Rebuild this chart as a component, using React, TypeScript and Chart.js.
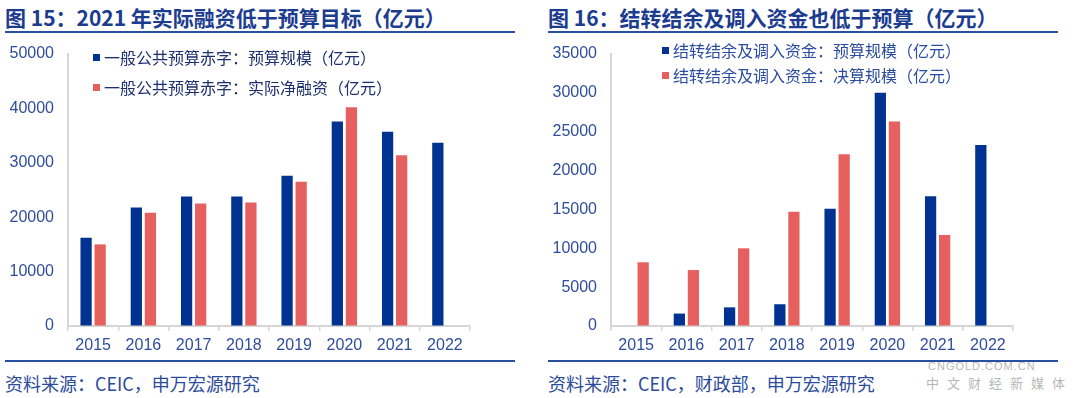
import React, { useEffect, useRef } from "react";
import { Chart, registerables } from "chart.js";

Chart.register(...registerables);

const years = ["2015", "2016", "2017", "2018", "2019", "2020", "2021", "2022"];
const deficitBudget = [16200, 21800, 23800, 23800, 27600, 37600, 35700, 33700];
const deficitActual = [15000, 20800, 22500, 22700, 26500, 40200, 31400, null];
const carryBudget = [null, 1600, 2400, 2800, 15100, 30000, 16700, 23300];
const carryFinal = [8200, 7200, 10000, 14700, 22100, 26300, 11700, null];

const leftTitle = "图 15：2021 年实际融资低于预算目标（亿元）";
const rightTitle = "图 16：结转结余及调入资金也低于预算（亿元）";
const leftLegend = ["一般公共预算赤字：预算规模（亿元）", "一般公共预算赤字：实际净融资（亿元）"];
const rightLegend = ["结转结余及调入资金：预算规模（亿元）", "结转结余及调入资金：决算规模（亿元）"];
const leftSource = "资料来源：CEIC，申万宏源研究";
const rightSource = "资料来源：CEIC，财政部，申万宏源研究";

const BLUE = "#003391";
const RED = "#e66060";
const AXIS = "#d6d6d6";
const TICK_COLOR = "#2f4d9c";
const TITLE_COLOR = "#1c3c8f";
const CJK = '"Noto Sans CJK SC", "Noto Sans", sans-serif';
const LATIN = '"Liberation Sans", Arial, sans-serif';

type BarProps = {
  a: (number | null)[];
  b: (number | null)[];
  labels: string[];
  max: number;
  step: number;
  yWidth: number;
  padRight: number;
};

function BarChart({ a, b, labels, max, step, yWidth, padRight }: BarProps) {
  const ref = useRef<HTMLCanvasElement | null>(null);
  useEffect(() => {
    if (!ref.current) return;
    const chart = new Chart(ref.current, {
      type: "bar",
      data: {
        labels,
        datasets: [
          { data: a, backgroundColor: BLUE, categoryPercentage: 0.56, barPercentage: 0.8 },
          { data: b, backgroundColor: RED, categoryPercentage: 0.56, barPercentage: 0.8 },
        ],
      },
      options: {
        responsive: false,
        animation: false,
        devicePixelRatio: 1,
        layout: { padding: { top: 14, right: padRight, bottom: 0, left: 0 } },
        plugins: { legend: { display: false }, tooltip: { enabled: false } },
        scales: {
          x: {
            grid: { offset: true, drawOnChartArea: false, drawTicks: true, tickLength: 5, color: AXIS, lineWidth: 1.5 },
            border: { color: AXIS, width: 2 },
            ticks: { color: TICK_COLOR, font: { family: LATIN, size: 16 }, padding: 5 },
            afterFit: (s: any) => {
              s.height = 34;
            },
          },
          y: {
            min: 0,
            max,
            grid: { drawOnChartArea: false, drawTicks: false },
            border: { color: AXIS, width: 2 },
            ticks: {
              stepSize: step,
              color: TICK_COLOR,
              font: { family: LATIN, size: 16 },
              padding: 14,
              callback: (v: any) => String(v),
            },
            afterFit: (s: any) => {
              s.width = yWidth;
              s.paddingTop = 0;
              s.paddingBottom = 0;
            },
          },
        },
      },
    });
    return () => chart.destroy();
  }, []);
  return <canvas ref={ref} width={540} height={320} />;
}

function Legend({ items, left, tops, color }: { items: string[]; left: number; tops: number[]; color: string }) {
  const colors = [BLUE, RED];
  return (
    <>
      {items.map((t, i) => (
        <div
          key={i}
          style={{
            position: "absolute",
            left,
            top: tops[i] - 11,
            height: 22,
            display: "flex",
            alignItems: "center",
            fontFamily: CJK,
            fontSize: 16,
            color,
            whiteSpace: "nowrap",
          }}
        >
          <span style={{ display: "inline-block", width: 7, height: 7, background: colors[i], marginRight: 4 }} />
          {t}
        </div>
      ))}
    </>
  );
}

function Panel({
  x,
  width,
  title,
  source,
  children,
}: {
  x: number;
  width: number;
  title: string;
  source: string;
  children: React.ReactNode;
}) {
  return (
    <>
      <div
        style={{
          position: "absolute",
          left: x,
          top: 4,
          height: 26,
          lineHeight: "26px",
          fontFamily: CJK,
          fontWeight: 700,
          fontSize: 21,
          color: TITLE_COLOR,
          whiteSpace: "nowrap",
        }}
      >
        {title}
      </div>
      <div style={{ position: "absolute", left: x, top: 31, width, height: 2, background: "#2a4ea0" }} />
      {children}
      <div style={{ position: "absolute", left: x, top: 360, width, height: 2, background: "#2a4ea0" }} />
      <div
        style={{
          position: "absolute",
          left: x,
          top: 370,
          height: 26,
          lineHeight: "26px",
          fontFamily: CJK,
          fontSize: 18,
          color: "#2c4b9c",
          whiteSpace: "nowrap",
        }}
      >
        {source}
      </div>
    </>
  );
}

export default function App() {
  return (
    <div
      style={{
        position: "absolute",
        left: 0,
        top: 0,
        width: 1080,
        height: 398,
        background: "#fff",
        overflow: "hidden",
      }}
    >
      <Panel x={5} width={510} title={leftTitle} source={leftSource}>
        <div style={{ position: "absolute", left: 0, top: 40 }}>
          <BarChart a={deficitBudget} b={deficitActual} labels={years} max={50000} step={10000} yWidth={68} padRight={70} />
        </div>
        <Legend items={leftLegend} left={93} tops={[57, 87]} color="#1e2f6e" />
      </Panel>
      <Panel x={548} width={510} title={rightTitle} source={rightSource}>
        <div style={{ position: "absolute", left: 540, top: 40 }}>
          <BarChart a={carryBudget} b={carryFinal} labels={years} max={35000} step={5000} yWidth={71} padRight={67} />
        </div>
        <Legend items={rightLegend} left={662} tops={[50, 75]} color="#2b4c9f" />
      </Panel>
      <div
        style={{
          position: "absolute",
          left: 928,
          top: 360,
          fontFamily: LATIN,
          fontSize: 11,
          letterSpacing: 1,
          color: "#b8b8b8",
          whiteSpace: "nowrap",
        }}
      >
        CNGOLD.COM.CN
      </div>
      <div
        style={{
          position: "absolute",
          left: 926,
          top: 373,
          fontFamily: CJK,
          fontSize: 13,
          letterSpacing: 8,
          color: "#b8b8b8",
          whiteSpace: "nowrap",
        }}
      >
        中文财经新媒体
      </div>
    </div>
  );
}
